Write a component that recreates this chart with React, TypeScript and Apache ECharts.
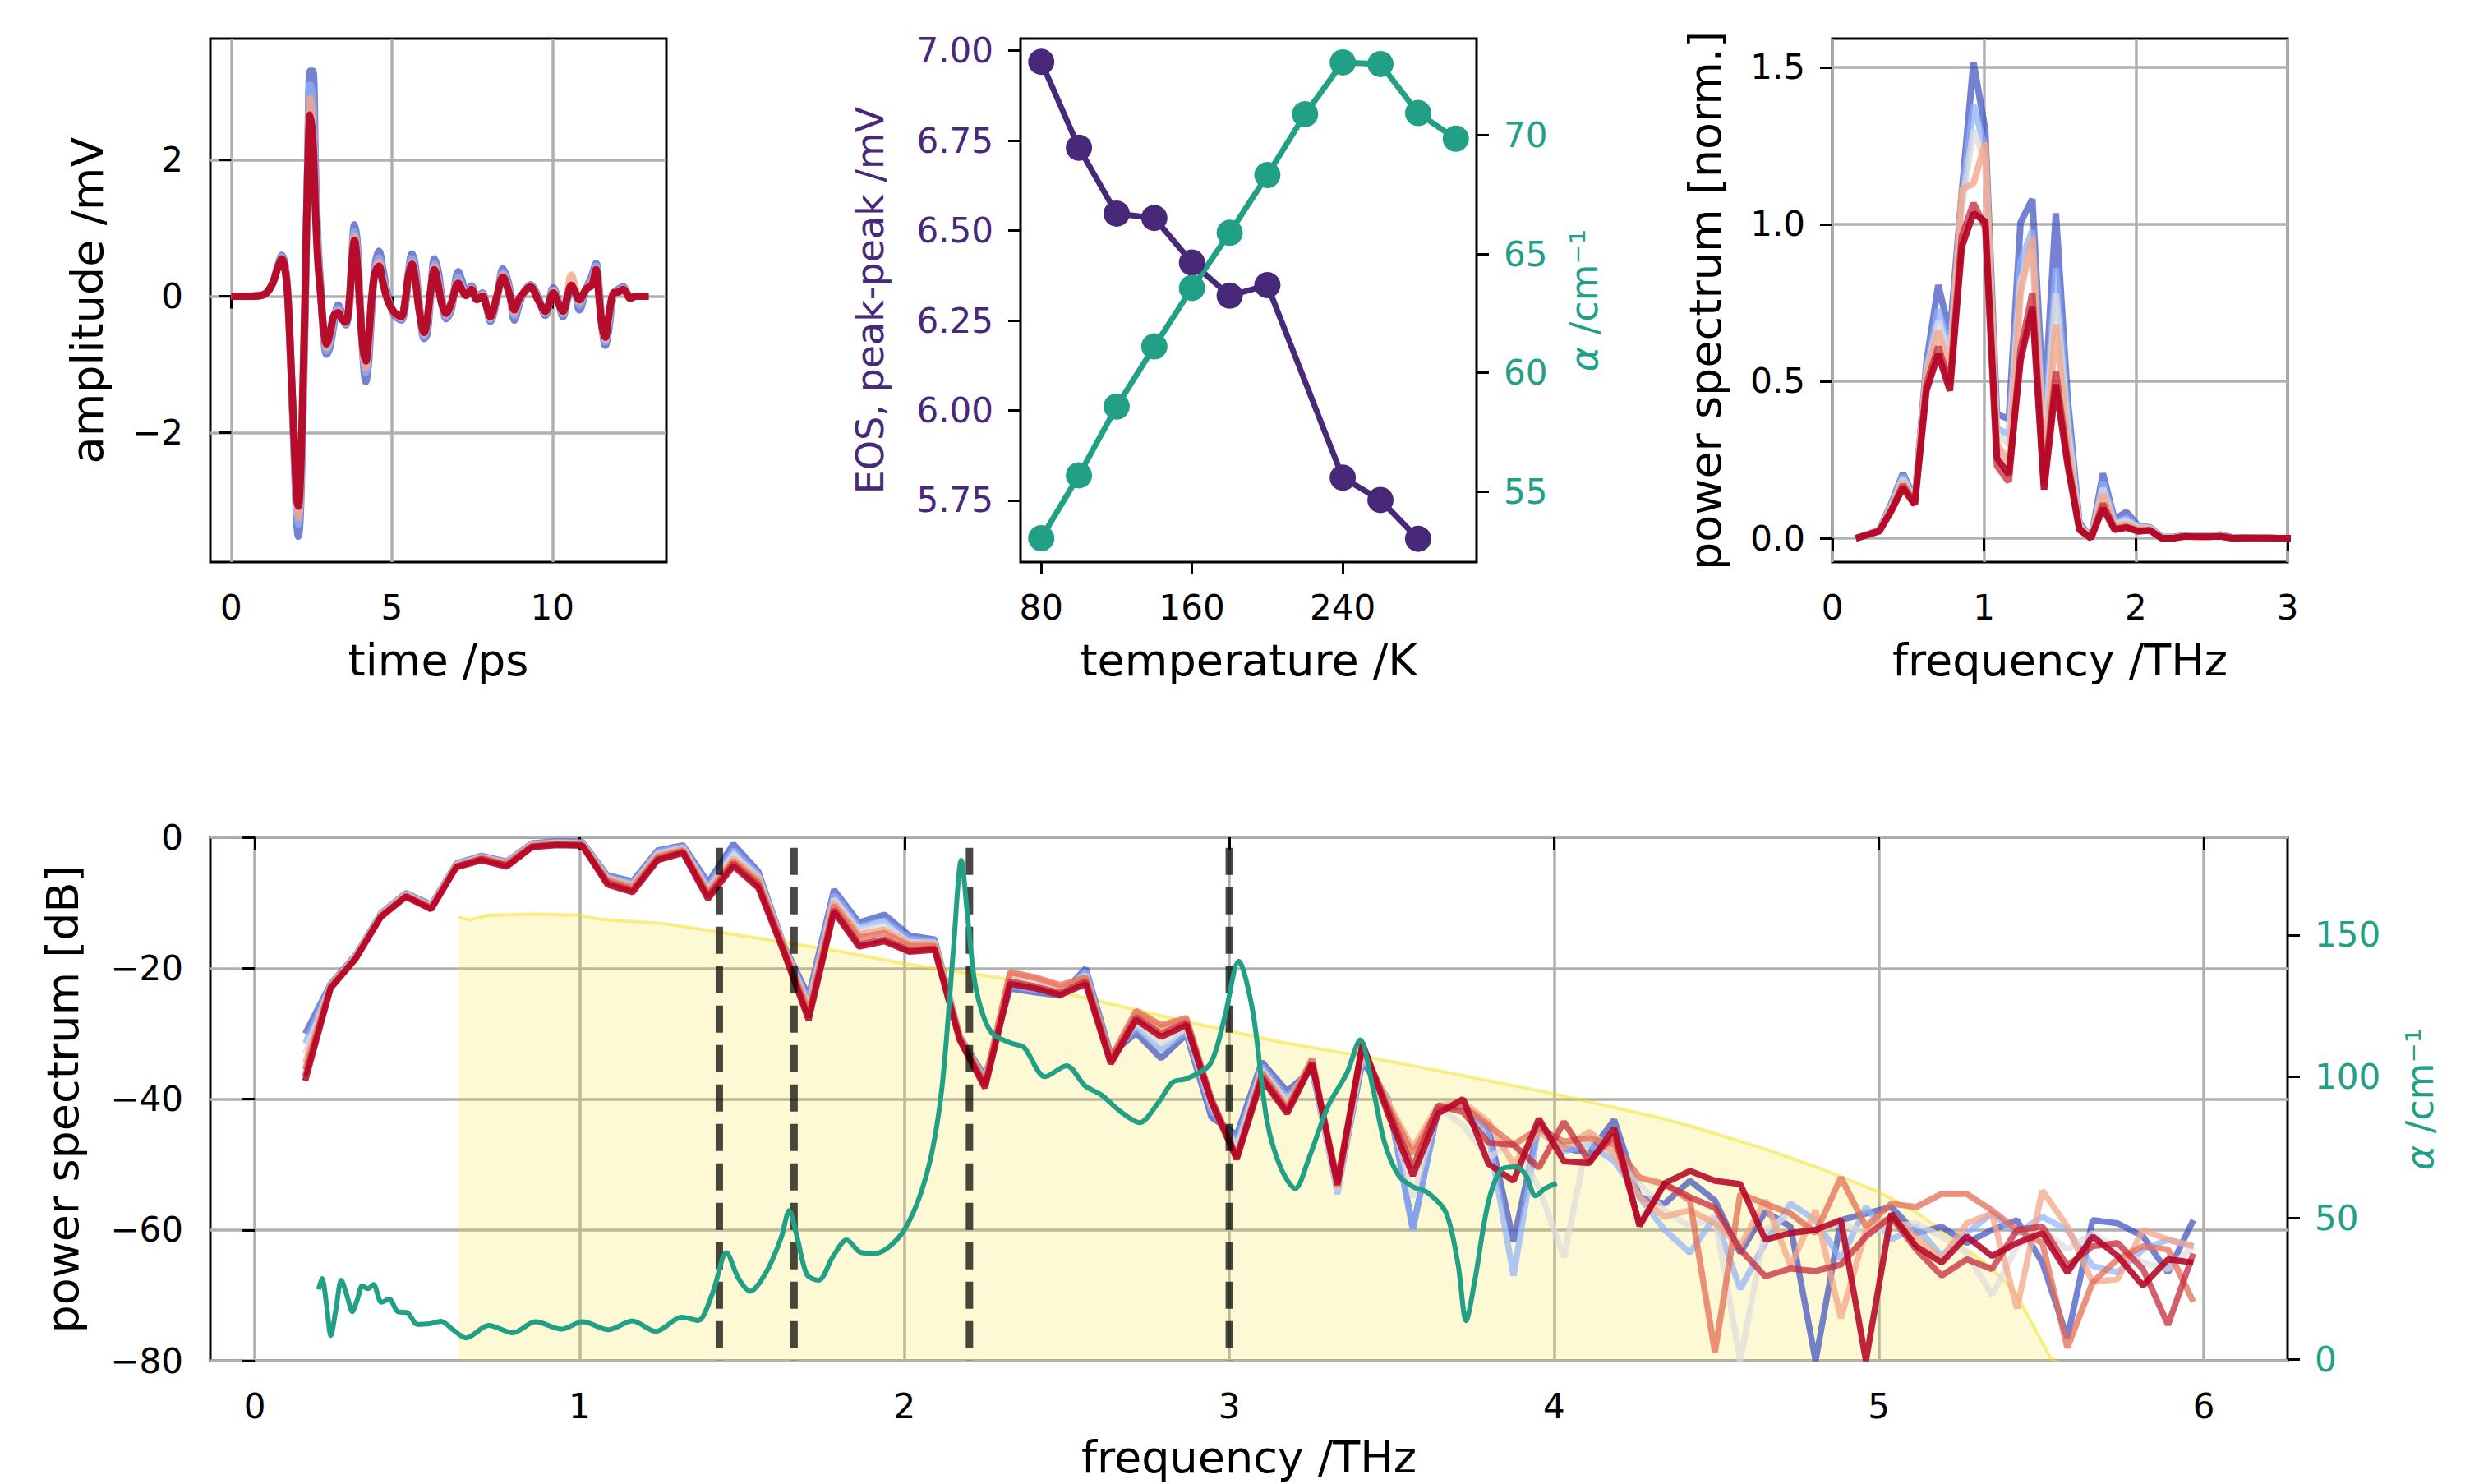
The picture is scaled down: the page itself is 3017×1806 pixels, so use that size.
import React, { useEffect, useRef } from 'react';
import * as echarts from 'echarts';

const FONT = 'DejaVu Sans';
const PURPLE = '#482878';
const GREEN = '#21a085';
const GRID_COLOR = '#b0b0b0';

const C_BLUE = '#3b4cc0';
const C_LIGHTBLUE = '#8db0fe';
const C_GREY = '#dddcdc';
const C_LIGHTSALMON = '#f4a688';
const C_SALMON = '#e36c55';
const C_CRIMSON = '#c5283a';
const C_RED = '#b40426';

// ---------------- Panel 1: time-domain traces ----------------
const TIME_PS = [
  0, 0.5, 0.9, 1.1, 1.3, 1.45, 1.58, 1.68, 1.76, 1.85, 1.95, 2.04,
  2.09, 2.15, 2.22, 2.3, 2.38, 2.46, 2.54, 2.62, 2.7, 2.79, 2.88, 2.97,
  3.07, 3.2, 3.33, 3.45, 3.57, 3.68, 3.76, 3.84, 3.92, 4.0, 4.1, 4.19,
  4.28, 4.38, 4.48, 4.6, 4.72, 4.88, 5.05, 5.2, 5.3, 5.42, 5.52, 5.63,
  5.73, 5.85, 6.01, 6.1, 6.2, 6.33, 6.45, 6.55, 6.69, 6.85, 7.07, 7.2,
  7.31, 7.48, 7.65, 7.82, 7.95, 8.07, 8.27, 8.46, 8.65, 8.82, 8.95, 9.1,
  9.31, 9.55, 9.78, 10.03, 10.18, 10.33, 10.47, 10.59, 10.72, 10.84, 11.06, 11.23,
  11.36, 11.45, 11.55, 11.65, 11.75, 11.91, 12.05, 12.21, 12.32, 12.42, 12.6, 13.0,
];
const TRACE_BLUE = [
  0, 0, 0.01, 0.05, 0.2, 0.44, 0.6, 0.45, 0.05, -0.9, -2.2, -3.3,
  -3.52, -3.2, -2.0, -0.2, 1.9, 3.3, 3.3, 1.9, 0.8, 0.1, -0.6, -0.85,
  -0.75, -0.4, -0.13, -0.25, -0.42, -0.15, 0.6, 1.05, 0.8, 0.05, -0.85, -1.25,
  -0.95, -0.15, 0.45, 0.66, 0.4, 0.0, -0.25, -0.33, -0.35, -0.15, 0.35, 0.62,
  0.45, -0.1, -0.62, -0.55, -0.05, 0.55, 0.35, 0.0, -0.33, -0.2, 0.36, 0.2,
  0.05, 0.15, -0.02, 0.05, -0.15, -0.37, -0.05, 0.4, 0.15, -0.35, -0.15, 0.05,
  0.17, 0.0, -0.28, 0.12, -0.05, -0.3, -0.05, 0.12, 0.05, -0.2, 0.12, 0.3,
  0.48, 0.15, -0.45, -0.72, -0.5, 0.05, 0.1, 0.14, 0.05, -0.03, 0.0, 0.0,
];
const TRACE_LIGHTBLUE = [
  0, 0, 0.01, 0.05, 0.2, 0.43, 0.58, 0.42, 0.03, -0.9, -2.1, -3.15,
  -3.35, -3.0, -1.85, -0.1, 1.85, 3.1, 2.9, 1.7, 0.7, 0.05, -0.55, -0.8,
  -0.68, -0.35, -0.18, -0.3, -0.4, -0.1, 0.55, 0.95, 0.7, 0.0, -0.8, -1.12,
  -0.8, -0.08, 0.4, 0.56, 0.3, -0.04, -0.24, -0.3, -0.33, -0.1, 0.33, 0.55,
  0.36, -0.15, -0.58, -0.45, 0.0, 0.47, 0.25, -0.05, -0.3, -0.15, 0.28, 0.14,
  0.03, 0.12, -0.03, 0.03, -0.15, -0.34, -0.03, 0.35, 0.1, -0.28, -0.1, 0.05,
  0.16, -0.02, -0.25, 0.09, -0.07, -0.26, -0.03, 0.14, 0.05, -0.13, 0.11, 0.24,
  0.44, 0.08, -0.45, -0.67, -0.4, 0.05, 0.08, 0.12, 0.05, -0.03, 0.0, 0.0,
];
const TRACE_SALMON = [
  0, 0, 0.01, 0.05, 0.2, 0.42, 0.56, 0.4, 0.01, -0.9, -2.05, -3.05,
  -3.25, -2.85, -1.7, -0.05, 1.82, 2.9, 2.5, 1.45, 0.6, 0.02, -0.52, -0.75,
  -0.6, -0.3, -0.22, -0.32, -0.39, -0.07, 0.52, 0.88, 0.6, -0.05, -0.78, -1.05,
  -0.7, -0.03, 0.37, 0.5, 0.25, -0.05, -0.23, -0.29, -0.31, -0.07, 0.31, 0.5,
  0.3, -0.18, -0.55, -0.4, 0.03, 0.43, 0.2, -0.08, -0.27, -0.12, 0.22, 0.1,
  0.02, 0.11, -0.04, 0.02, -0.15, -0.32, -0.02, 0.31, 0.07, -0.24, -0.07, 0.05,
  0.15, -0.04, -0.24, 0.07, -0.08, -0.24, 0.05, 0.31, 0.1, -0.08, 0.12, 0.2,
  0.4, 0.04, -0.45, -0.64, -0.35, 0.05, 0.07, 0.11, 0.04, -0.03, 0.0, 0.0,
];
const TRACE_RED = [
  0, 0, 0.01, 0.05, 0.2, 0.42, 0.55, 0.38, 0.0, -0.9, -2.0, -2.95,
  -3.08, -2.7, -1.6, 0.0, 1.8, 2.66, 2.3, 1.3, 0.5, 0.0, -0.5, -0.7,
  -0.55, -0.28, -0.24, -0.34, -0.38, -0.05, 0.5, 0.82, 0.5, -0.1, -0.75, -0.95,
  -0.6, 0.0, 0.35, 0.44, 0.2, -0.07, -0.22, -0.28, -0.3, -0.05, 0.3, 0.47,
  0.25, -0.2, -0.53, -0.35, 0.05, 0.39, 0.15, -0.1, -0.25, -0.1, 0.19, 0.08,
  0.01, 0.1, -0.05, 0.0, -0.15, -0.3, 0.0, 0.28, 0.05, -0.2, -0.05, 0.05,
  0.14, -0.05, -0.22, 0.05, -0.1, -0.22, 0.0, 0.16, 0.05, -0.05, 0.11, 0.16,
  0.39, 0.0, -0.45, -0.6, -0.3, 0.05, 0.06, 0.1, 0.04, -0.03, 0.0, 0.0,
];
const TIME_TICKS = [0, 5, 10];
const AMP_TICKS = [-2, 0, 2];

// ---------------- Panel 2: temperature dependence ----------------
const TEMP_EOS = [80, 100, 120, 140, 160, 180, 200, 240, 260, 280];
const EOS_PP = [6.969, 6.73, 6.547, 6.535, 6.411, 6.319, 6.348, 5.813, 5.751, 5.643];
const TEMP_ALPHA = [80, 100, 120, 140, 160, 180, 200, 220, 240, 260, 280, 300];
const ALPHA_VS_T = [53.04, 55.69, 58.58, 61.11, 63.57, 65.89, 68.32, 70.88, 73.06, 72.99, 70.93, 69.85];
const TEMP_TICKS = [80, 160, 240];
const EOS_TICKS = [5.75, 6.0, 6.25, 6.5, 6.75, 7.0];
const ALPHA_T_TICKS = [55, 60, 65, 70];

// ---------------- Frequency grid (THz) ----------------
const FREQ = [
  0.155, 0.233, 0.31, 0.388, 0.465, 0.543, 0.62, 0.698, 0.775, 0.853, 0.93, 1.008,
  1.085, 1.163, 1.24, 1.318, 1.395, 1.473, 1.55, 1.628, 1.705, 1.783, 1.86, 1.938,
  2.015, 2.093, 2.17, 2.248, 2.325, 2.403, 2.48, 2.558, 2.635, 2.713, 2.79, 2.868,
  2.945, 3.023, 3.1, 3.178, 3.255, 3.333, 3.41, 3.488, 3.565, 3.643, 3.72, 3.798,
  3.875, 3.953, 4.03, 4.108, 4.185, 4.263, 4.34, 4.418, 4.495, 4.573, 4.65, 4.728,
  4.805, 4.883, 4.96, 5.038, 5.115, 5.193, 5.27, 5.348, 5.425, 5.503, 5.58, 5.658,
  5.735, 5.813, 5.89, 5.968,
];

// ---------------- Panel 3: normalised power spectrum ----------------
const NORM_BLUE = [
  0.0, 0.013, 0.028, 0.11, 0.207, 0.125, 0.56, 0.806, 0.65, 1.1, 1.515, 1.3,
  0.395, 0.38, 1.005, 1.08, 0.4, 1.035, 0.45, 0.05, 0.0, 0.206, 0.06, 0.084,
  0.04, 0.035, 0.005, 0.004, 0.01, 0.008, 0.008, 0.012, 0.003, 0.002, 0.001, 0.001,
  0.0, 0.0,
];
const NORM_LIGHTBLUE = [
  0.0, 0.012, 0.027, 0.105, 0.2, 0.12, 0.54, 0.73, 0.6, 1.08, 1.38, 1.24,
  0.35, 0.33, 0.88, 0.98, 0.32, 0.86, 0.4, 0.045, 0.0, 0.18, 0.05, 0.065,
  0.038, 0.034, 0.004, 0.003, 0.009, 0.008, 0.008, 0.01, 0.002, 0.001, 0.001, 0.001,
  0.0, 0.0,
];
const NORM_GREY = [
  0.0, 0.012, 0.026, 0.1, 0.19, 0.118, 0.53, 0.69, 0.57, 1.05, 1.3, 1.2,
  0.33, 0.3, 0.82, 0.92, 0.28, 0.78, 0.36, 0.04, 0.0, 0.16, 0.045, 0.055,
  0.035, 0.032, 0.003, 0.002, 0.008, 0.007, 0.007, 0.009, 0.001, 0.001, 0.001, 0.001,
  0.0, 0.0,
];
const NORM_SALMON = [
  0.0, 0.012, 0.025, 0.095, 0.18, 0.115, 0.52, 0.66, 0.53, 1.11, 1.13, 1.26,
  0.3, 0.24, 0.78, 0.96, 0.2, 0.68, 0.3, 0.035, 0.0, 0.14, 0.04, 0.045,
  0.03, 0.03, 0.002, 0.001, 0.007, 0.006, 0.006, 0.008, 0.001, 0.001, 0.001, 0.001,
  0.0, 0.0,
];
const NORM_CRIMSON = [
  0.0, 0.011, 0.024, 0.09, 0.17, 0.11, 0.49, 0.61, 0.49, 0.96, 1.067, 0.99,
  0.23, 0.18, 0.6, 0.78, 0.17, 0.53, 0.25, 0.03, 0.0, 0.11, 0.03, 0.036,
  0.024, 0.026, 0.0, 0.0, 0.006, 0.005, 0.005, 0.006, 0.0, 0.001, 0.001, 0.001,
  0.0, 0.0,
];
const NORM_RED = [
  0.0, 0.011, 0.022, 0.086, 0.16, 0.107, 0.47, 0.587, 0.47, 0.928, 1.035, 1.008,
  0.256, 0.203, 0.566, 0.736, 0.155, 0.49, 0.235, 0.027, 0.0, 0.096, 0.027, 0.034,
  0.022, 0.025, 0.0, 0.0, 0.006, 0.005, 0.005, 0.006, 0.0, 0.001, 0.001, 0.001,
  0.0, 0.0,
];
const NORM_FREQ_TICKS = [0, 1, 2, 3];
const NORM_TICKS = [0, 0.5, 1.0, 1.5];

// ---------------- Panel 4: power spectrum in dB ----------------
const DB_BLUE = [
  -30.0, -22.4, -18.0, -11.6, -8.5, -10.3, -4.0, -2.8, -3.7, -0.9, -0.6, -0.7,
  -5.8, -6.7, -2.0, -1.2, -6.9, -1.0, -5.2, -16.4, -24.3, -8.0, -13.0, -11.8,
  -15.0, -15.6, -30.4, -36.6, -23.1, -23.7, -24.2, -20.0, -33.2, -29.9, -33.8, -30.1,
  -42.8, -45.5, -34.3, -38.8, -35.5, -53.9, -34.3, -39.9, -59.8, -41.6, -41.0, -44.5,
  -61.7, -43.8, -47.5, -48.3, -43.2, -55.0, -56.0, -52.5, -55.5, -63.5, -57.2, -59.5,
  -80.0, -58.5, -57.5, -56.5, -60.5, -59.5, -62.0, -60.0, -58.5, -65.0, -76.5, -58.5,
  -59.0, -61.0, -66.5, -58.5,
];
const DB_LIGHTBLUE = [
  -31.5, -22.5, -18.1, -11.7, -8.6, -10.4, -4.1, -2.9, -3.8, -1.0, -0.7, -0.8,
  -6.0, -7.0, -2.2, -1.4, -7.5, -1.9, -5.6, -16.5, -25.0, -8.7, -13.6, -12.7,
  -15.5, -15.9, -30.4, -37.0, -22.7, -23.3, -24.0, -20.5, -33.6, -29.0, -32.5, -29.7,
  -41.8, -46.5, -35.0, -39.7, -35.3, -54.5, -33.6, -40.0, -60.1, -41.5, -41.0, -45.5,
  -67.0, -44.0, -48.0, -47.0, -49.5, -55.0, -60.0, -63.5, -58.0, -69.0, -62.0, -56.0,
  -58.5, -64.5, -56.5, -61.5, -59.5, -64.0, -60.5, -57.5, -60.5, -58.0, -60.0, -65.5,
  -66.5, -63.0, -61.5, -62.5,
];
const DB_GREY = [
  -33.0, -22.6, -18.2, -11.8, -8.7, -10.5, -4.2, -3.0, -3.9, -1.1, -0.8, -0.9,
  -6.2, -7.3, -2.5, -1.6, -8.0, -2.6, -6.0, -16.6, -25.8, -9.4, -14.2, -13.5,
  -16.0, -16.1, -30.5, -37.2, -21.8, -22.4, -23.6, -21.0, -34.0, -28.3, -31.5, -29.3,
  -41.0, -47.5, -35.5, -40.5, -35.0, -54.0, -33.0, -40.2, -55.0, -41.3, -44.0, -49.0,
  -46.5, -53.5, -64.2, -45.0, -48.0, -53.0, -57.0, -59.5, -58.0, -80.0, -60.0, -57.5,
  -60.0, -59.0, -60.5, -59.5, -59.0, -61.0, -63.5, -70.0, -62.5, -60.0, -63.0, -60.5,
  -63.0, -65.0, -66.0, -62.5,
];
const DB_LIGHTSALMON = [
  -34.5, -22.7, -18.3, -11.9, -8.8, -10.6, -4.3, -3.1, -4.0, -1.2, -0.9, -1.0,
  -6.4, -7.5, -2.8, -1.8, -8.3, -3.2, -6.4, -16.6, -26.3, -9.9, -14.8, -14.1,
  -16.2, -16.3, -30.4, -37.3, -20.9, -21.6, -22.9, -21.6, -33.9, -26.9, -29.0, -27.9,
  -40.5, -49.0, -35.8, -41.0, -34.0, -53.5, -32.5, -40.5, -47.5, -41.0, -40.5, -43.5,
  -50.0, -45.0, -47.5, -45.0, -48.5, -55.0, -58.0, -57.0, -59.0, -62.5, -55.5, -65.5,
  -57.0, -73.5, -60.0, -58.0, -61.0, -64.5, -59.0, -57.5, -72.0, -54.0, -59.5, -68.0,
  -67.5, -60.0, -61.5, -62.5,
];
const DB_SALMON = [
  -35.5, -22.8, -18.4, -12.0, -8.9, -10.7, -4.4, -3.2, -4.1, -1.3, -1.0, -1.1,
  -6.6, -7.7, -3.0, -2.0, -8.6, -3.6, -6.8, -16.8, -26.8, -10.4, -15.3, -14.6,
  -16.6, -16.6, -30.5, -37.5, -20.6, -21.4, -22.6, -21.4, -33.8, -26.5, -28.7, -27.6,
  -40.2, -49.0, -36.0, -41.5, -33.8, -53.4, -32.0, -41.0, -48.4, -41.5, -41.0, -44.0,
  -47.0, -44.5, -46.5, -46.0, -47.0, -52.0, -53.0, -55.5, -78.7, -54.5, -56.0, -57.5,
  -60.5, -52.0, -59.5, -56.0, -56.5, -54.5, -54.5, -57.0, -60.0, -62.0, -78.0, -68.0,
  -64.5, -62.5, -63.0, -71.0,
];
const DB_CRIMSON = [
  -36.5, -23.0, -18.5, -12.1, -9.0, -10.9, -4.5, -3.3, -4.3, -1.4, -1.1, -1.2,
  -6.9, -8.1, -3.3, -2.2, -9.0, -4.0, -7.3, -17.2, -27.5, -11.0, -16.3, -15.6,
  -17.3, -17.0, -30.8, -38.0, -22.0, -22.8, -23.8, -22.0, -34.3, -27.5, -30.0, -28.3,
  -40.0, -48.8, -36.5, -41.8, -34.5, -52.5, -31.8, -41.5, -50.5, -41.0, -42.0, -46.7,
  -47.0, -50.5, -43.5, -49.5, -45.5, -59.2, -53.0, -55.0, -56.6, -63.0, -67.1, -65.9,
  -66.3, -65.3, -61.0, -58.0, -63.0, -67.0, -64.5, -66.0, -60.0, -59.5, -65.5, -62.5,
  -62.0, -66.0, -74.5, -63.6,
];
const DB_RED = [
  -37.2, -23.1, -18.6, -12.2, -9.1, -11.0, -4.6, -3.5, -4.5, -1.5, -1.2, -1.3,
  -7.2, -8.4, -3.5, -2.4, -9.4, -4.4, -7.7, -17.5, -27.9, -11.4, -16.7, -15.9,
  -17.5, -17.2, -31.0, -38.3, -22.4, -23.1, -24.1, -22.4, -34.6, -27.9, -30.5, -28.7,
  -40.5, -49.2, -36.9, -42.2, -34.6, -53.1, -31.5, -42.2, -51.7, -42.2, -40.0, -49.9,
  -52.5, -43.0, -49.5, -49.8, -44.5, -59.4, -52.9, -51.0, -52.5, -53.0, -61.5, -60.5,
  -60.0, -58.5, -80.0, -57.5, -62.5, -65.0, -61.0, -64.0, -62.0, -60.5, -66.5, -61.0,
  -64.0, -68.5, -64.5, -65.0,
];
// reference (shaded) spectrum
const REF_FREQ = [
  0.627, 0.66, 0.72, 0.864, 1.0, 1.06, 1.264, 1.42, 1.6, 1.81, 2.0, 2.29, 2.58, 2.87, 3.16,
  3.45, 3.74, 4.0, 4.32, 4.433, 4.66, 4.83, 5.0, 5.11, 5.19, 5.23, 5.34, 5.42, 5.46, 5.53, 5.55,
];
const REF_DB = [
  -12.2, -12.6, -11.9, -11.7, -11.9, -12.5, -13.2, -14.4, -15.8, -17.5, -19.3, -21.4, -24.8, -28.2, -31.3,
  -33.8, -36.6, -39.2, -42.8, -44.3, -47.8, -50.8, -54.2, -57.1, -60.0, -61.5, -65.5, -69.5, -73.2, -79.7, -80,
];
const MODE_FREQS = [1.43, 1.66, 2.2, 3.0];
// absorption coefficient
const ABS_FREQ = [
  0.196, 0.207, 0.22, 0.234, 0.25, 0.266, 0.285, 0.3, 0.315, 0.331, 0.348, 0.365, 0.39, 0.414, 0.44,
  0.47, 0.5, 0.537, 0.573, 0.61, 0.65, 0.72, 0.794, 0.864, 0.944, 1.009, 1.089, 1.162, 1.234, 1.314,
  1.365, 1.409, 1.452, 1.489, 1.525, 1.576, 1.62, 1.645, 1.67, 1.7, 1.736, 1.78, 1.822, 1.866, 1.91,
  1.997, 2.07, 2.114, 2.15, 2.175, 2.194, 2.216, 2.245, 2.274, 2.332, 2.368, 2.433, 2.499, 2.556, 2.607,
  2.665, 2.724, 2.782, 2.826, 2.869, 2.941, 2.985, 3.029, 3.072, 3.116, 3.159, 3.203, 3.246, 3.304, 3.362,
  3.403, 3.442, 3.478, 3.522, 3.566, 3.609, 3.667, 3.704, 3.729, 3.755, 3.798, 3.842, 3.885, 3.914, 3.943,
  3.972, 4.008,
];
const ABS_ALPHA = [
  24.7, 28.6, 20, 8.5, 18, 28.0, 22, 16.9, 21, 26.0, 25.0, 26.5, 20.2, 21.3, 16.9,
  16.5, 12.4, 12.6, 13.5, 10.5, 7.6, 12.0, 9.4, 13.3, 10.7, 13.3, 10.5, 13.6, 9.9, 14.9,
  13.8, 23.4, 37.7, 28.6, 24.1, 31.2, 42.9, 52.6, 42.9, 29.9, 28.0, 36.4, 42.2, 37.8, 37.5,
  45.4, 66.2, 94.7, 144, 176.4, 156.9, 133.6, 120.6, 114.8, 111.6, 110.3, 99.9, 103.8, 96.7, 93.4,
  87.6, 83.7, 90.8, 98, 99.2, 104.4, 120.6, 140.7, 123.2, 84.3, 67.5, 60.4, 71.4, 89.5, 101.2,
  112.9, 96, 76.6, 64.9, 61, 59.1, 51.9, 33.8, 13.7, 27.3, 55.8, 67.5, 68.1, 64.9, 57.8,
  60.4, 62.3,
];
const DB_FREQ_TICKS = [0, 1, 2, 3, 4, 5, 6];
const DB_TICKS = [-80, -60, -40, -20, 0];
const ABS_TICKS = [0, 50, 100, 150];

// ---------------- helpers ----------------
const zip = (xs: number[], ys: number[]) => ys.map((y, i) => [xs[i], y]);
const fmt = (dec: number) => (v: number) => (v < 0 ? '\u2212' : '') + Math.abs(v).toFixed(dec);

function makeAxis(dim: 'x' | 'y', gridIndex: number, min: number, max: number, ticks: number[], dec: number, o: any = {}) {
  const labelColor = o.labelColor || '#000';
  return {
    type: 'value',
    gridIndex,
    min,
    max,
    position: o.position || (dim === 'x' ? 'bottom' : 'left'),
    axisLine: { show: false },
    axisTick: { show: true, length: 15, lineStyle: { color: '#000', width: 3 }, customValues: ticks },
    axisLabel: {
      show: true,
      customValues: ticks,
      formatter: fmt(dec),
      fontFamily: FONT,
      fontSize: 42,
      color: labelColor,
      margin: dim === 'x' ? 34 : 33,
    },
    splitLine: { show: !!o.grid, lineStyle: { color: GRID_COLOR, width: 3.5 } },
    name: o.name || '',
    nameLocation: 'middle',
    nameGap: o.gap,
    nameRotate: dim === 'y' ? 90 : 0,
    nameTextStyle: {
      fontFamily: FONT,
      fontSize: o.nameSize || 54,
      color: o.nameColor || '#000',
      rich: o.rich,
    },
    z: 1,
  };
}

function lineSeries(xi: number, yi: number, xs: number[], ys: number[], color: string, width: number, opacity: number, smooth: number | boolean = false, extra: any = {}) {
  return {
    type: 'line',
    xAxisIndex: xi,
    yAxisIndex: yi,
    data: zip(xs, ys),
    symbol: 'none',
    showSymbol: false,
    smooth,
    lineStyle: { color, width, opacity },
    itemStyle: { color },
    emphasis: { disabled: true },
    silent: true,
    animation: false,
    ...extra,
  };
}

const alphaRich = (size: number) => ({ i: { fontStyle: 'italic', fontFamily: FONT, fontSize: size, color: GREEN } });

export default function App() {
  const ref = useRef<HTMLDivElement>(null);

  useEffect(() => {
    if (!ref.current) return;
    const chart = echarts.init(ref.current, null, { renderer: 'svg' });

    const gridBase = { show: true, borderColor: '#000', borderWidth: 3, backgroundColor: 'transparent', containLabel: false, outerBoundsMode: 'none' };

    const option: any = {
      animation: false,
      backgroundColor: '#ffffff',
      grid: [
        { ...gridBase, left: 256, top: 47, width: 555, height: 637 },
        { ...gridBase, left: 1242, top: 47, width: 555, height: 637 },
        { ...gridBase, left: 2230, top: 47, width: 554, height: 637 },
        { ...gridBase, left: 256, top: 1019, width: 2528, height: 637 },
      ],
      xAxis: [
        makeAxis('x', 0, -0.65, 13.55, TIME_TICKS, 0, { grid: true, name: 'time /ps', gap: 92 }),
        makeAxis('x', 1, 69, 311, TEMP_TICKS, 0, { grid: false, name: 'temperature /K', gap: 92 }),
        makeAxis('x', 2, 0, 3, NORM_FREQ_TICKS, 0, { grid: true, name: 'frequency /THz', gap: 92 }),
        makeAxis('x', 3, -0.137, 6.258, DB_FREQ_TICKS, 0, { grid: true, name: 'frequency /THz', gap: 90 }),
      ],
      yAxis: [
        makeAxis('y', 0, -3.9, 3.78, AMP_TICKS, 0, { grid: true, name: 'amplitude /mV', gap: 123 }),
        makeAxis('y', 1, 5.5785, 7.0335, EOS_TICKS, 2, {
          grid: false, name: 'EOS, peak-peak /mV', gap: 160, nameSize: 46, nameColor: PURPLE, labelColor: PURPLE,
        }),
        makeAxis('y', 1, 52.04, 74.06, ALPHA_T_TICKS, 0, {
          grid: false, position: 'right', name: '{i|α} /cm⁻¹', gap: 108, nameSize: 46, nameColor: GREEN, labelColor: GREEN, rich: alphaRich(46),
        }),
        makeAxis('y', 2, -0.0757, 1.591, NORM_TICKS, 1, { grid: true, name: 'power spectrum [norm.]', gap: 128 }),
        makeAxis('y', 3, -80, 0, DB_TICKS, 0, { grid: true, name: 'power spectrum [dB]', gap: 153 }),
        makeAxis('y', 3, -0.46, 184.5, ABS_TICKS, 0, {
          grid: false, position: 'right', name: '{i|α} /cm⁻¹', gap: 138, nameSize: 46, nameColor: GREEN, labelColor: GREEN, rich: alphaRich(46),
        }),
      ],
      series: [
        // panel 1
        lineSeries(0, 0, TIME_PS, TRACE_BLUE, C_BLUE, 9, 0.7, 0.35),
        lineSeries(0, 0, TIME_PS, TRACE_LIGHTBLUE, C_LIGHTBLUE, 9, 0.75, 0.35),
        lineSeries(0, 0, TIME_PS, TRACE_SALMON, C_LIGHTSALMON, 9, 0.8, 0.35),
        lineSeries(0, 0, TIME_PS, TRACE_RED, C_RED, 9, 0.95, 0.35),
        // panel 2
        {
          ...lineSeries(1, 1, TEMP_EOS, EOS_PP, PURPLE, 7, 1),
          symbol: 'circle', showSymbol: true, symbolSize: 32,
        },
        {
          ...lineSeries(1, 2, TEMP_ALPHA, ALPHA_VS_T, GREEN, 7, 1),
          symbol: 'circle', showSymbol: true, symbolSize: 32,
        },
        // panel 3
        lineSeries(2, 3, FREQ, NORM_BLUE, C_BLUE, 8, 0.7),
        lineSeries(2, 3, FREQ, NORM_LIGHTBLUE, C_LIGHTBLUE, 8, 0.75),
        lineSeries(2, 3, FREQ, NORM_GREY, C_GREY, 8, 0.75),
        lineSeries(2, 3, FREQ, NORM_SALMON, C_LIGHTSALMON, 8, 0.8),
        lineSeries(2, 3, FREQ, NORM_CRIMSON, C_CRIMSON, 8, 0.75),
        lineSeries(2, 3, FREQ, NORM_RED, C_RED, 8, 0.92),
        // panel 4 reference fill
        {
          ...lineSeries(3, 4, REF_FREQ, REF_DB, 'rgba(243,223,27,0.5)', 4, 1),
          areaStyle: { color: 'rgba(243,223,27,0.27)', origin: 'start' },
        },
        lineSeries(3, 4, FREQ, DB_BLUE, C_BLUE, 7.5, 0.7),
        lineSeries(3, 4, FREQ, DB_LIGHTBLUE, C_LIGHTBLUE, 7.5, 0.7),
        lineSeries(3, 4, FREQ, DB_GREY, C_GREY, 7.5, 0.7),
        lineSeries(3, 4, FREQ, DB_LIGHTSALMON, C_LIGHTSALMON, 7.5, 0.75),
        lineSeries(3, 4, FREQ, DB_SALMON, C_SALMON, 7.5, 0.75),
        lineSeries(3, 4, FREQ, DB_CRIMSON, C_CRIMSON, 7.5, 0.75),
        lineSeries(3, 4, FREQ, DB_RED, C_RED, 7.5, 0.88),
        ...MODE_FREQS.map((f) => ({
          ...lineSeries(3, 4, [f, f], [-1.6, -80], '#000', 9, 0.72),
          lineStyle: { color: '#000', width: 9, opacity: 0.72, type: [33, 15] },
        })),
        lineSeries(3, 5, ABS_FREQ, ABS_ALPHA, GREEN, 6, 1, 0.3),
      ],
    };

    chart.setOption(option);
    return () => chart.dispose();
  }, []);

  return (
    <div
      ref={ref}
      style={{ position: 'fixed', left: 0, top: 0, width: 3017, height: 1806, background: '#fff' }}
    />
  );
}
